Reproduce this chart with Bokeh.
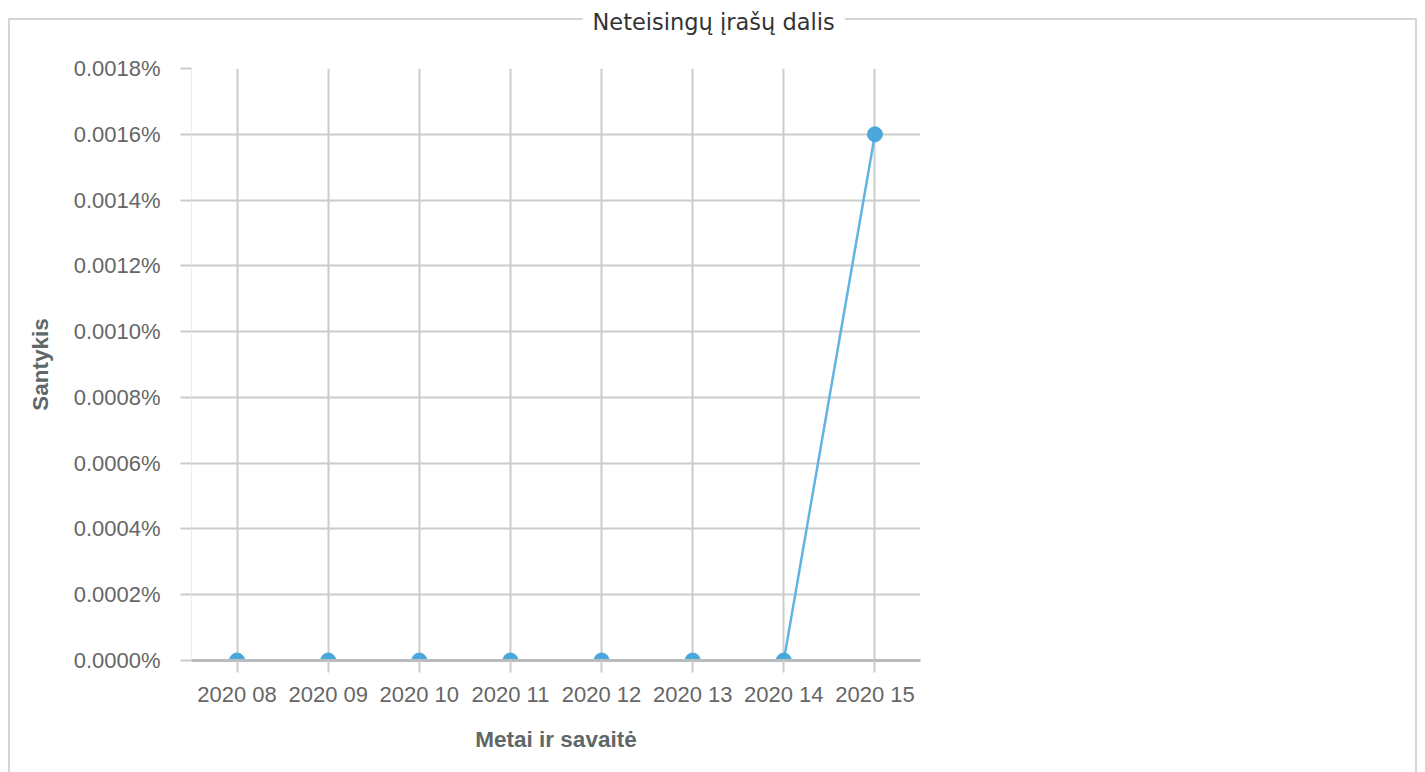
from bokeh.plotting import figure
from bokeh.models import (FactorRange, Range1d, FixedTicker, PrintfTickFormatter,
                          ColumnDataSource, Title)
from bokeh.embed import file_html
from bokeh.resources import INLINE

# ---- data ----
weeks = ["2020 08", "2020 09", "2020 10", "2020 11", "2020 12", "2020 13", "2020 14", "2020 15"]
ratio_pct = [0.0, 0.0, 0.0, 0.0, 0.0, 0.0, 0.0, 0.0016]
y_ticks = [0.0, 0.0002, 0.0004, 0.0006, 0.0008, 0.0010, 0.0012, 0.0014, 0.0016, 0.0018]
title_text = "Neteisingų įrašų dalis"
x_label = "Metai ir savaitė"
y_label = "Santykis"

W, H = 1425, 772
border_col = "#d5d5d5"
css_border = {
    "background-color": "white",
    "background-image": ", ".join([f"linear-gradient({border_col}, {border_col})"] * 3),
    "background-size": "1409px 2px, 2px 780px, 2px 780px",
    "background-position": "8px 18px, 8px 18px, 1415px 18px",
    "background-repeat": "no-repeat",
}

p = figure(width=W, height=H, x_range=FactorRange(*weeks), y_range=Range1d(0, 0.0018),
           output_backend="svg", toolbar_location=None,
           min_border_left=191, min_border_right=505, min_border_top=68, min_border_bottom=112,
           styles=css_border)
p.outline_line_color = None
p.background_fill_color = "white"
p.border_fill_color = None

grid_col = "#cacccc"
tick_lbl_col = "#666666"
axis_lbl_col = "#5f6868"

# grids
p.xgrid.grid_line_color = grid_col
p.xgrid.grid_line_width = 2
p.ygrid.grid_line_color = grid_col
p.ygrid.grid_line_width = 2

# y axis
p.yaxis.ticker = FixedTicker(ticks=y_ticks)
p.yaxis.formatter = PrintfTickFormatter(format="%.4f%%")
p.yaxis.axis_line_color = "#ececec"
p.yaxis.axis_line_width = 1
p.yaxis.major_tick_line_color = grid_col
p.yaxis.major_tick_line_width = 2
p.yaxis.major_tick_out = 11
p.yaxis.major_tick_in = 0
p.yaxis.minor_tick_line_color = None
p.yaxis.major_label_standoff = 20
p.yaxis.major_label_text_font = "Liberation Sans"
p.yaxis.major_label_text_font_size = "22px"
p.yaxis.major_label_text_color = tick_lbl_col
p.yaxis.axis_label = y_label
p.yaxis.axis_label_text_font = "Liberation Sans"
p.yaxis.axis_label_text_font_style = "bold"
p.yaxis.axis_label_text_font_size = "22.5px"
p.yaxis.axis_label_text_color = axis_lbl_col
p.yaxis.axis_label_standoff = 18

# x axis
p.xaxis.axis_line_color = "#b9bcbc"
p.xaxis.axis_line_width = 3
p.xaxis.major_tick_line_color = grid_col
p.xaxis.major_tick_line_width = 2
p.xaxis.major_tick_out = 12
p.xaxis.major_tick_in = 0
p.xaxis.major_label_standoff = 9
p.xaxis.major_label_text_font = "Liberation Sans"
p.xaxis.major_label_text_font_size = "22px"
p.xaxis.major_label_text_color = tick_lbl_col
p.xaxis.axis_label = x_label
p.xaxis.axis_label_text_font = "Liberation Sans"
p.xaxis.axis_label_text_font_style = "bold"
p.xaxis.axis_label_text_font_size = "22.5px"
p.xaxis.axis_label_text_color = axis_lbl_col
p.xaxis.axis_label_standoff = 17

src = ColumnDataSource(data=dict(x=weeks, y=ratio_pct))
p.line("x", "y", source=src, line_color="#62b3e3", line_width=2.5)
p.scatter("x", "y", source=src, size=15, fill_color="#4aa7dc", line_color="#4aa7dc")

# fieldset legend-style title, centered on the whole canvas
t = Title(text=title_text, align="left", vertical_align="top",
          text_font="DejaVu Sans", text_font_size="22.5px",
          text_font_style="normal", text_color="#333333", background_fill_color="white",
          padding=dict(left=10, right=10, top=0, bottom=32), standoff=0, offset=391)
p.add_layout(t, "above")

open("out.html", "w").write(file_html(p, INLINE))
